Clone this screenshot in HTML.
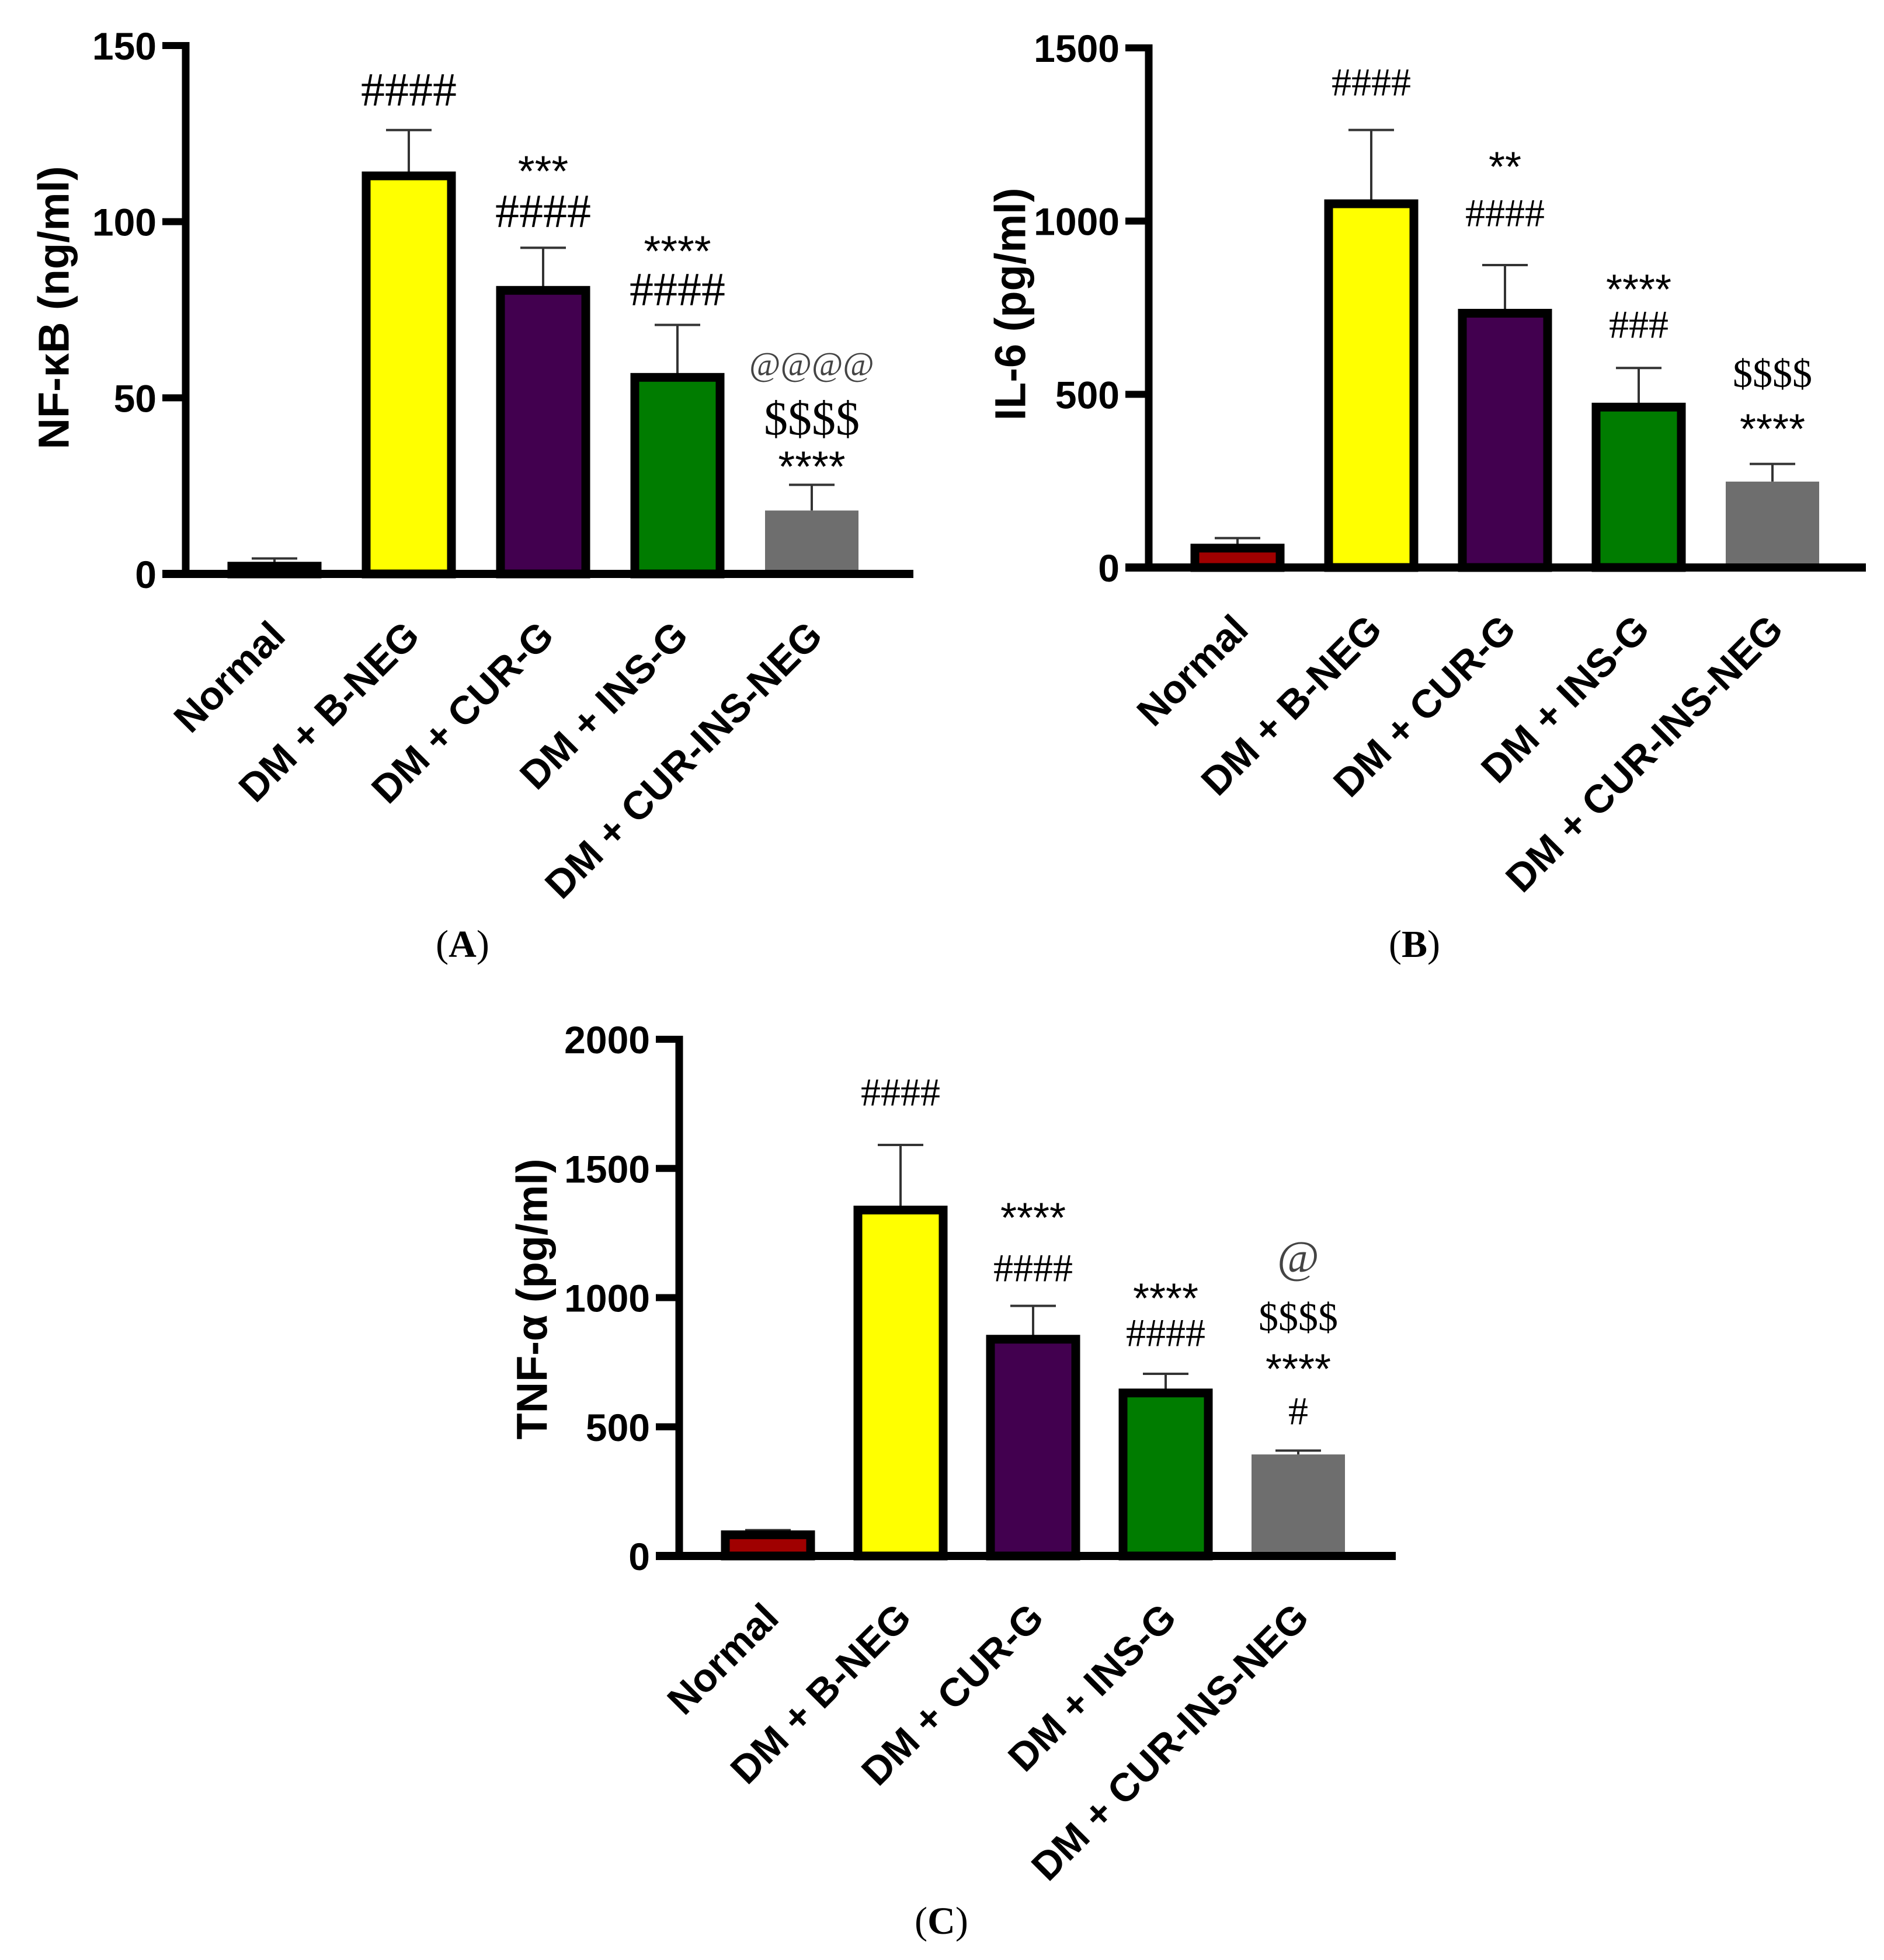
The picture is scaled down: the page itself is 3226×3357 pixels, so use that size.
<!DOCTYPE html>
<html><head><meta charset="utf-8">
<style>
html,body{margin:0;padding:0;background:#fff;}
svg{display:block;}
</style></head>
<body>
<svg id="fig" xmlns="http://www.w3.org/2000/svg" width="3226" height="3357" viewBox="0 0 3226 3357">
<rect x="0" y="0" width="3226" height="3357" fill="#fff"/>
</svg>
<script>
const categories = ["Normal", "DM + B-NEG", "DM + CUR-G", "DM + INS-G", "DM + CUR-INS-NEG"];
const nfkbMeans = [2.2, 113, 80.5, 55.8, 18];
const nfkbErrTop = [4.4, 126, 92.6, 70.7, 25.3];
const nfkbTicks = [0, 50, 100, 150];
const il6Means = [56, 1050, 734, 463, 248];
const il6ErrTop = [85, 1263, 873, 576, 299];
const il6Ticks = [0, 500, 1000, 1500];
const tnfMeans = [82, 1339, 839, 631, 393];
const tnfErrTop = [100, 1591, 968, 705, 408];
const tnfTicks = [0, 500, 1000, 1500, 2000];
const nfkbSig = [[], [["####"]], [["***"], ["####"]], [["****"], ["####"]], [["@@@@"], ["$$$$"], ["****"]]];
const il6Sig = [[], [["####"]], [["**"], ["####"]], [["****"], ["###"]], [["$$$$"], ["****"]]];
const tnfSig = [[], [["####"]], [["****"], ["####"]], [["****"], ["####"]], [["@"], ["$$$$"], ["****"], ["#"]]];

const NS = "http://www.w3.org/2000/svg";
const svg = document.getElementById("fig");
const fills = ["#a00000", "#ffff00", "#42004f", "#007c00", "#6e6e6e"];

function mk(tag, attrs, parent) {
  const e = document.createElementNS(NS, tag);
  for (const k in attrs) e.setAttribute(k, attrs[k]);
  (parent || svg).appendChild(e);
  return e;
}

function drawPanel(p) {
  const g = mk("g", {});
  
  
  const yS = v => p.y0 - (v / p.max) * (p.y0 - p.yTop);
  const xS = i => p.c0 + p.step * i;
  const bw = 146;
  p.means.forEach((m, i) => {
    const cx = xS(i);
    const eb = mk("path", {d: `M${cx},${yS(m)} V${yS(p.err[i])} M${cx-39},${yS(p.err[i])} H${cx+39}`, stroke: "#333", "stroke-width": 4, fill: "none"}, g);
    
    
    let r;
    if (i === 4) {
      r = mk("rect", {x: cx - bw/2 - 7, y: yS(m), width: bw + 14, height: p.y0 - yS(m), fill: fills[i]}, g);
    } else {
      r = mk("rect", {x: cx - bw/2, y: yS(m), width: bw, height: p.y0 - yS(m), fill: fills[i], stroke: "#000", "stroke-width": 15}, g);
    }
    
    
    const lx = cx + 22, ly = p.y0 + 110;
    const t = mk("text", {x: lx, y: ly, transform: `rotate(-45 ${lx} ${ly})`, "text-anchor": "end", "font-family": "Liberation Sans, Arial, sans-serif", "font-weight": "bold", "font-size": 68}, g);
    t.textContent = categories[i];
    
    
    const sig = p.sig[i];
    sig.forEach((s, j) => {
      const txt = s[0];
      const yc = p.sigY[i][j];
      let fam, size, base, col = "#000";
      if (txt[0] === "*") { fam = "Liberation Sans, sans-serif"; size = p.astSize; base = yc + 0.55 * size; }
      else if (txt[0] === "@") { fam = "Liberation Serif, serif"; size = txt.length === 1 ? 78 : 58; base = yc + 0.3 * size; col = "#444"; }
      else { fam = "Liberation Serif, serif"; size = p.hashSize; base = yc + 0.33 * size; }
      const st = mk("text", {x: cx, y: base, "text-anchor": "middle", "font-family": fam, "font-size": size, fill: col}, g);
      st.textContent = txt;
      
      
    });
  });
  const ya = mk("line", {x1: p.ax, y1: yS(p.max) - 6, x2: p.ax, y2: p.y0 + 6, stroke: "#000", "stroke-width": 13}, g);
  
  
  const xa = mk("line", {x1: p.ax - 40, y1: p.y0, x2: p.xEnd, y2: p.y0, stroke: "#000", "stroke-width": 14}, g);
  
  
  p.ticks.forEach(tv => {
    const tk = mk("line", {x1: p.ax - 40, y1: yS(tv), x2: p.ax, y2: yS(tv), stroke: "#000", "stroke-width": 12}, g);
    
    
    const tl = mk("text", {x: p.ax - 50, y: yS(tv) + 24, "text-anchor": "end", "font-family": "Liberation Sans, Arial, sans-serif", "font-weight": "bold", "font-size": 66}, g);
    tl.textContent = String(tv);
    
    
  });
  const yt = mk("text", {x: p.titleX, y: p.titleY, transform: `rotate(-90 ${p.titleX} ${p.titleY})`, "text-anchor": "middle", "dominant-baseline": "central", "font-family": "Liberation Sans, DejaVu Sans, sans-serif", "font-weight": "bold", "font-size": 74}, g);
  yt.textContent = p.title;
  
  
  const pl = mk("text", {x: p.letterX, y: p.letterY, "text-anchor": "middle", "dominant-baseline": "central", "font-family": "Liberation Serif, serif", "font-size": 66}, g);
  pl.innerHTML = "(<tspan font-weight='bold'>" + p.letter + "</tspan>)";
  
  
}

drawPanel({name: "panel-a-nfkb", means: nfkbMeans, err: nfkbErrTop, ticks: nfkbTicks, max: 150,
  ax: 318, y0: 983, yTop: 78, c0: 470, step: 230, xEnd: 1564, sig: nfkbSig,
  sigY: [[], [154], [278, 362], [415, 496], [626, 717, 784]], hashSize: 82, astSize: 74,
  title: "NF-\u03BAB (ng/ml)", titleX: 92, titleY: 527, letter: "A", letterX: 792, letterY: 1617});
drawPanel({name: "panel-b-il6", means: il6Means, err: il6ErrTop, ticks: il6Ticks, max: 1500,
  ax: 1967, y0: 972, yTop: 82, c0: 2119, step: 229, xEnd: 3195, sig: il6Sig,
  sigY: [[], [141], [271, 365], [481, 556], [640, 720]], hashSize: 68, astSize: 72,
  title: "IL-6 (pg/ml)", titleX: 1730, titleY: 521, letter: "B", letterX: 2422, letterY: 1617});
drawPanel({name: "panel-c-tnf", means: tnfMeans, err: tnfErrTop, ticks: tnfTicks, max: 2000,
  ax: 1163, y0: 2665, yTop: 1780, c0: 1315, step: 227, xEnd: 2390, sig: tnfSig,
  sigY: [[], [1871], [2071, 2172], [2209, 2283], [2156, 2256, 2330, 2417]], hashSize: 68, astSize: 72,
  title: "TNF-\u03B1 (pg/ml)", titleX: 911, titleY: 2225, letter: "C", letterX: 1612, letterY: 3290});
</script>
</body></html>
